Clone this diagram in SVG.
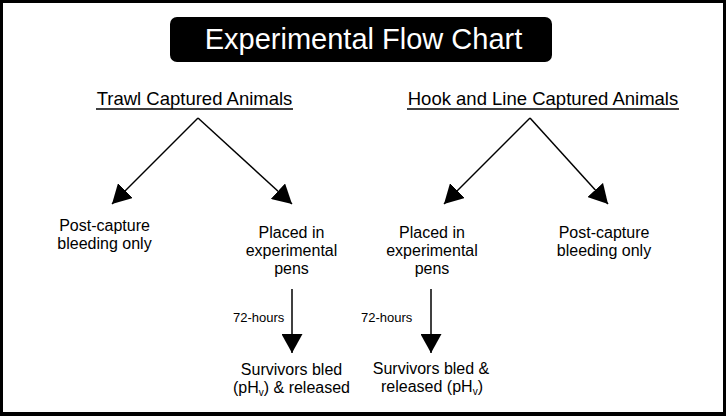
<svg xmlns="http://www.w3.org/2000/svg" width="726" height="416" viewBox="0 0 726 416">
  <style>
    text { font-family: "Liberation Sans", Arial, sans-serif; fill: #000; }
    .title { font-size: 29px; fill: #fff; text-anchor: middle; }
    .head { font-size: 18.5px; text-anchor: middle; }
    .lbl { font-size: 16px; text-anchor: middle; }
    .sm { font-size: 13px; }
    .sub { font-size: 10px; }
    .conn { stroke: #000; stroke-width: 1.5; fill: none; }
    .ul { stroke: #000; stroke-width: 1.5; }
  </style>
  <defs>
    <marker id="arrow" markerUnits="userSpaceOnUse" markerWidth="19" markerHeight="21" refX="19" refY="10.5" orient="auto" viewBox="0 0 19 21">
      <path d="M0,0 L19,10.5 L0,21 Z" fill="#000"/>
    </marker>
  </defs>

  <rect x="0" y="0" width="726" height="416" fill="#000"/>
  <rect x="3" y="3" width="720" height="409" fill="#fff"/>

  <g id="title">
    <rect x="170" y="17" width="382" height="45" rx="7" ry="7" fill="#000"/>
    <text class="title" x="363.5" y="49">Experimental Flow Chart</text>
  </g>

  <g id="trawl">
    <text class="head" x="194.5" y="105">Trawl Captured Animals</text>
    <line class="ul" x1="96" y1="109" x2="293" y2="109"/>
  </g>

  <g id="hook">
    <text class="head" x="543" y="105">Hook and Line Captured Animals</text>
    <line class="ul" x1="407" y1="109" x2="679" y2="109"/>
  </g>

  <g id="trawl-postcapture">
    <text class="lbl" x="104.5" y="231">Post-capture</text>
    <text class="lbl" x="104.5" y="249">bleeding only</text>
  </g>

  <g id="trawl-pens">
    <text class="lbl" x="291.5" y="237.5">Placed in</text>
    <text class="lbl" x="291.5" y="255.5">experimental</text>
    <text class="lbl" x="291.5" y="273.5">pens</text>
  </g>

  <g id="hook-pens">
    <text class="lbl" x="432" y="237.5">Placed in</text>
    <text class="lbl" x="432" y="255.5">experimental</text>
    <text class="lbl" x="432" y="273.5">pens</text>
  </g>

  <g id="hook-postcapture">
    <text class="lbl" x="604" y="237.5">Post-capture</text>
    <text class="lbl" x="604" y="255.5">bleeding only</text>
  </g>

  <g id="trawl-survivors">
    <text class="lbl" x="291.5" y="374.5">Survivors bled</text>
    <text class="lbl" x="291.5" y="392.5">(pH<tspan class="sub" dy="3">v</tspan><tspan dy="-3">) &amp; released</tspan></text>
  </g>

  <g id="hook-survivors">
    <text class="lbl" x="431" y="373.5">Survivors bled &amp;</text>
    <text class="lbl" x="432" y="391.5">released (pH<tspan class="sub" dy="3">v</tspan><tspan dy="-3">)</tspan></text>
  </g>

  <g id="connectors">
    <polyline class="conn" points="198,118 112,204" marker-end="url(#arrow)"/>
    <polyline class="conn" points="198,118 292,204" marker-end="url(#arrow)"/>
    <polyline class="conn" points="530,118 444,204" marker-end="url(#arrow)"/>
    <polyline class="conn" points="530,118 608,204" marker-end="url(#arrow)"/>
    <line class="conn" x1="292" y1="289" x2="292" y2="353" marker-end="url(#arrow)"/>
    <line class="conn" x1="431" y1="289" x2="431" y2="353" marker-end="url(#arrow)"/>
    <text class="sm" x="233" y="322">72-hours</text>
    <text class="sm" x="361" y="322">72-hours</text>
  </g>
</svg>
